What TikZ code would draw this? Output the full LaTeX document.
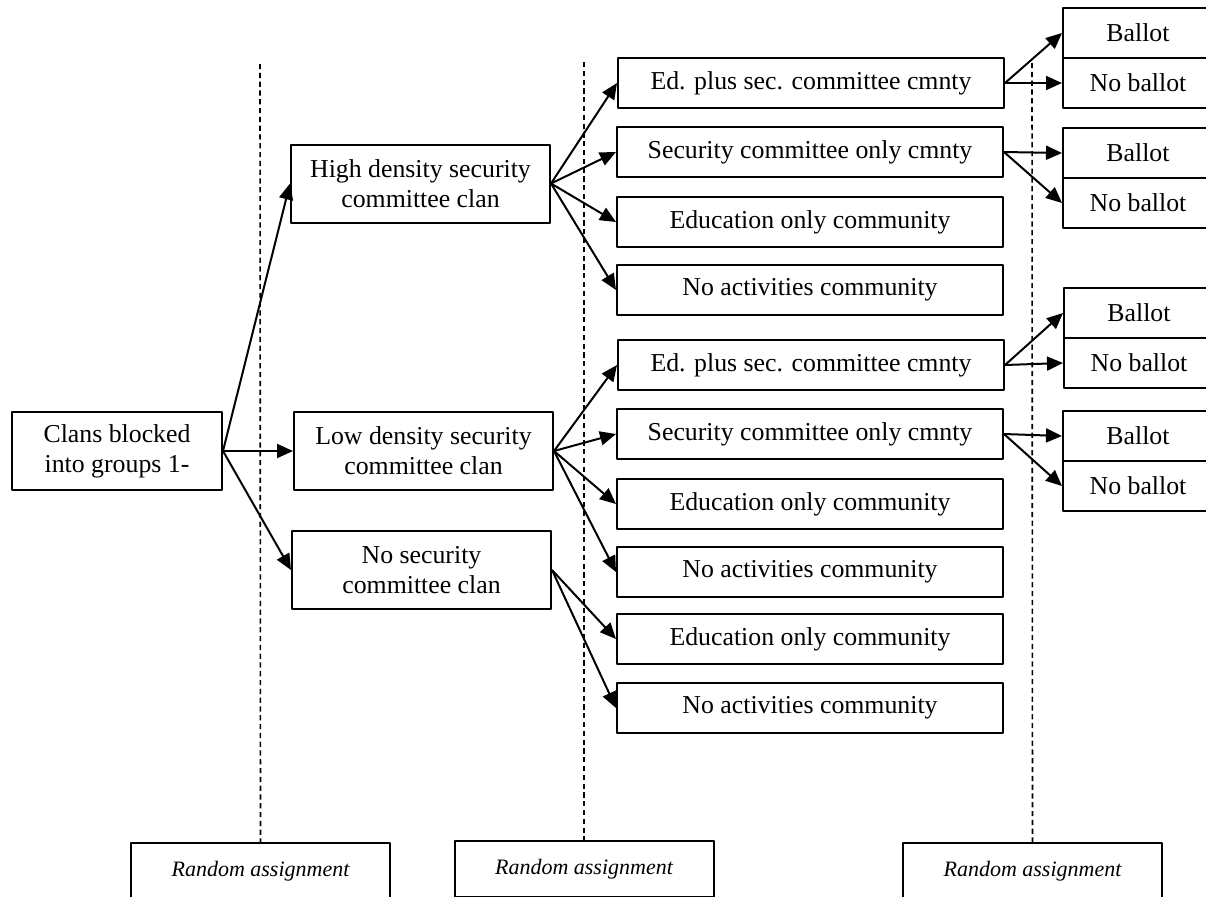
\documentclass[tikz,border=0pt]{standalone}
\usepackage{fontspec}
\setmainfont{Liberation Serif}
\usetikzlibrary{arrows.meta}
\begin{document}
\begin{tikzpicture}[x=0.5pt,y=-0.5pt,>={Triangle[length=8pt,width=7pt]},line join=round,
	font=\fontsize{12.9}{15}\selectfont,
	box/.style={draw,line width=1pt,inner sep=0pt,align=center},
	clanbox/.style={box,minimum width=129.5pt,minimum height=39pt},
	cmntybox/.style={box,minimum width=193pt,minimum height=25pt},
	ballotbox/.style={box,minimum width=75pt,minimum height=25pt},
	randbox/.style={box,minimum width=129.5pt,minimum height=28pt,font=\fontsize{11}{13}\selectfont\itshape},
	arr/.style={->,line width=1pt},
	sep/.style={dashed,line width=0.8pt,dash pattern=on 2.6pt off 1.8pt}]
	\useasboundingbox (0,0) rectangle (1206,896);
	% first stage
	\node[box,minimum width=105pt,minimum height=39pt] (clans) at (117,451) {Clans blocked\\into groups 1-};
	\node[clanbox] (high) at (420.5,183.5) {High density security\\committee clan};
	\node[clanbox] (low) at (423.5,451) {Low density security\\committee clan};
	\node[clanbox] (nosec) at (421.5,570) {No security\\committee clan};
	% second stage
	\node[cmntybox] (h1) at (811,83) {Ed. plus sec. committee cmnty};
	\node[cmntybox] (h2) at (810,152) {Security committee only cmnty};
	\node[cmntybox] (h3) at (810,222) {Education only community};
	\node[cmntybox] (h4) at (810,290) {No activities community};
	\node[cmntybox] (l1) at (811,365) {Ed. plus sec. committee cmnty};
	\node[cmntybox] (l2) at (810,434) {Security committee only cmnty};
	\node[cmntybox] (l3) at (810,504) {Education only community};
	\node[cmntybox] (l4) at (810,572) {No activities community};
	\node[cmntybox] (n1) at (810,639) {Education only community};
	\node[cmntybox] (n2) at (810,708) {No activities community};
	% third stage
	\node[ballotbox] (b1) at (1138,33) {Ballot};
	\node[ballotbox] (nb1) at (1138,83) {No ballot};
	\node[ballotbox] (b2) at (1138,153) {Ballot};
	\node[ballotbox] (nb2) at (1138,203) {No ballot};
	\node[ballotbox] (b3) at (1139,313) {Ballot};
	\node[ballotbox] (nb3) at (1139,363) {No ballot};
	\node[ballotbox] (b4) at (1138,436) {Ballot};
	\node[ballotbox] (nb4) at (1138,486) {No ballot};
	% random assignment
	\node[randbox] (ra1) at (260.5,871) {Random assignment};
	\node[randbox] (ra2) at (584,869) {Random assignment};
	\node[randbox] (ra3) at (1032.5,871) {Random assignment};
	\coordinate (t1) at (260,64);
	\coordinate (t2) at (584,62);
	\coordinate (t3) at (1032,63);
	\draw[sep] (t1) -- (ra1.north);
	\draw[sep] (t2) -- (ra2.north);
	\draw[sep] (t3) -- (ra3.north);
	% arrows
	\draw[arr] (clans.east) -- (high.west);
	\draw[arr] (clans.east) -- (low.west);
	\draw[arr] (clans.east) -- (nosec.west);
	\draw[arr] (high.east) -- (h1.west);
	\draw[arr] (high.east) -- (h2.west);
	\draw[arr] (high.east) -- (h3.west);
	\draw[arr] (high.east) -- (h4.west);
	\draw[arr] (low.east) -- (l1.west);
	\draw[arr] (low.east) -- (l2.west);
	\draw[arr] (low.east) -- (l3.west);
	\draw[arr] (low.east) -- (l4.west);
	\draw[arr] (nosec.east) -- (n1.west);
	\draw[arr] (nosec.east) -- (n2.west);
	\draw[arr] (h1.east) -- (b1.west);
	\draw[arr] (h1.east) -- (nb1.west);
	\draw[arr] (h2.east) -- (b2.west);
	\draw[arr] (h2.east) -- (nb2.west);
	\draw[arr] (l1.east) -- (b3.west);
	\draw[arr] (l1.east) -- (nb3.west);
	\draw[arr] (l2.east) -- (b4.west);
	\draw[arr] (l2.east) -- (nb4.west);
\end{tikzpicture}
\end{document}
